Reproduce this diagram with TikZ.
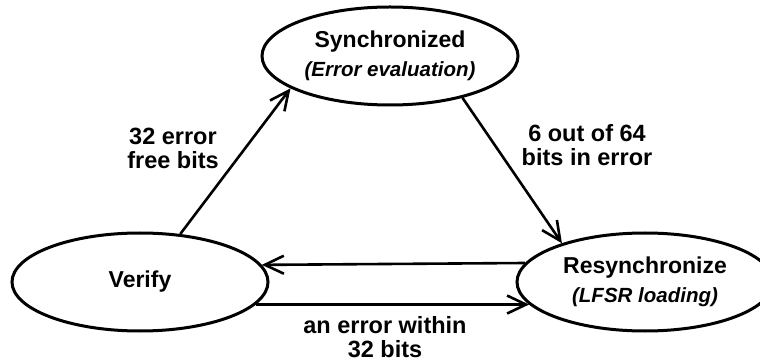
\documentclass[tikz,border=0pt]{standalone}
\usepackage{fontspec}
\setmainfont{Liberation Sans}
\usetikzlibrary{shapes.geometric,arrows.meta}

\tikzset{
  state/.style={ellipse, draw, line width=3pt, minimum width=256pt,
    minimum height=98pt, inner sep=0pt, align=center,
    font=\fontsize{23}{29}\selectfont\bfseries},
  trans/.style={line width=2.6pt,
    -{Straight Barb[length=19pt,width=18pt,line width=2.6pt]}},
  lbl/.style={align=center, font=\fontsize{23.5}{24}\selectfont\bfseries}
}
\newcommand{\substate}[1]{{\fontsize{20.5}{29}\selectfont\itshape\bfseries #1}}

\begin{document}
\begin{tikzpicture}[x=1pt,y=-1pt]
  \useasboundingbox[fill=white] (0,0) rectangle (760,363);

  % states
  \node[state] (syn) at (390,56) {Synchronized\\\substate{(Error evaluation)}};
  \node[state] (ver) at (140,282) {Verify};
  \node[state] (res) at (645,282) {Resynchronize\\\substate{(LFSR loading)}};

  % transitions
  \draw[trans] (ver.50.8) -- (syn.198.1);
  \draw[trans] (syn.330.1) -- (res.155.4);
  \draw[trans] (res.171.4) -- (ver.8.6);
  \draw[trans] (ver.-11.5) -- (res.191.5);

  % transition labels
  \node[lbl] (l1) at (173,148) {32 error\\free bits};
  \node[lbl] (l2) at (587,145) {6 out of 64\\bits in error};
  \node[lbl] (l3) at (385,337) {an error within\\32 bits};
\end{tikzpicture}
\end{document}
